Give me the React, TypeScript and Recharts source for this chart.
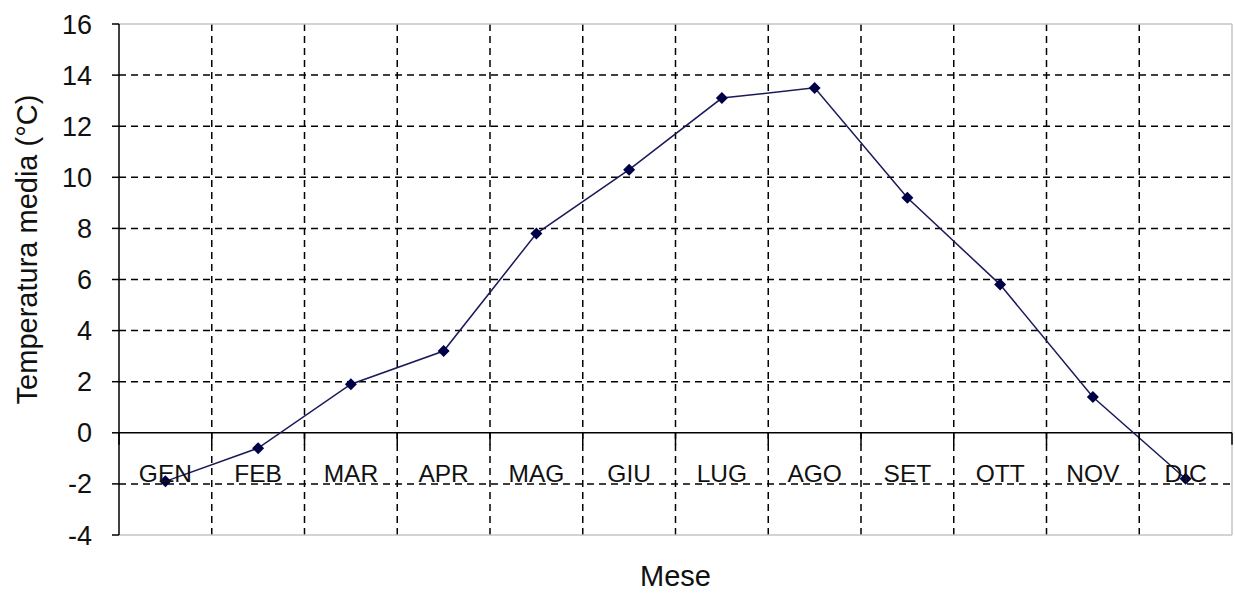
import React from "react";
import { LineChart, Line, XAxis, YAxis, CartesianGrid, ReferenceLine } from "recharts";

const MESI = ["GEN", "FEB", "MAR", "APR", "MAG", "GIU", "LUG", "AGO", "SET", "OTT", "NOV", "DIC"];
const TEMPERATURE = [-1.9, -0.6, 1.9, 3.2, 7.8, 10.3, 13.1, 13.5, 9.2, 5.8, 1.4, -1.8];
const Y_TICKS = [-4, -2, 0, 2, 4, 6, 8, 10, 12, 14, 16];
const GRID_VALUES = [-2, 2, 4, 6, 8, 10, 12, 14];

const data = MESI.map((mese, i) => ({ mese, temp: TEMPERATURE[i] }));

const W = 1235;
const H = 599;
const MARGIN = { top: 24, right: 3, left: 0, bottom: 0 };
const Y_AXIS_W = 119;
const X_AXIS_H = 64;
const PLOT_W = W - Y_AXIS_W - MARGIN.left - MARGIN.right;
const PLOT_H = H - MARGIN.top - MARGIN.bottom - X_AXIS_H;
const BAND = PLOT_W / MESI.length;
const Y_MIN = -4;
const Y_MAX = 16;
const ZERO_Y = MARGIN.top + (PLOT_H * (Y_MAX - 0)) / (Y_MAX - Y_MIN);
const FONT = "'Liberation Sans', Arial, sans-serif";

const MonthTick = (props: any) => {
  const { x, payload, index } = props;
  return (
    <g>
      <line x1={x - BAND / 2} x2={x - BAND / 2} y1={ZERO_Y} y2={ZERO_Y + 12} stroke="#000" strokeWidth={1.5} />
      {index === MESI.length - 1 && (
        <line x1={x + BAND / 2} x2={x + BAND / 2} y1={ZERO_Y} y2={ZERO_Y + 12} stroke="#000" strokeWidth={1.5} />
      )}
      <text x={x} y={ZERO_Y + 49} textAnchor="middle" fontSize={24.5} fill="#111" fontFamily={FONT}>
        {payload.value}
      </text>
    </g>
  );
};

const Diamond = (props: any) => {
  const { cx, cy } = props;
  if (cx == null || cy == null) return null;
  const r = 6;
  return (
    <polygon
      points={`${cx},${cy - r} ${cx + r},${cy} ${cx},${cy + r} ${cx - r},${cy}`}
      fill="#000046"
    />
  );
};

const YTitle = (props: any) => {
  const { viewBox } = props;
  const cy = viewBox.y + viewBox.height / 2 - 30;
  return (
    <text
      x={27}
      y={cy}
      transform={`rotate(-90, 27, ${cy})`}
      textAnchor="middle"
      dominantBaseline="central"
      fontSize={29}
      fill="#111"
      fontFamily={FONT}
    >
      Temperatura media (°C)
    </text>
  );
};

const XTitle = (props: any) => {
  const { viewBox } = props;
  return (
    <text
      x={viewBox.x + viewBox.width / 2}
      y={viewBox.y + 41}
      textAnchor="middle"
      dominantBaseline="central"
      fontSize={29}
      fill="#111"
      fontFamily={FONT}
    >
      Mese
    </text>
  );
};

export default function App() {
  return (
    <div style={{ position: "absolute", left: 0, top: 0, width: W, height: H, background: "#fff" }}>
      <LineChart width={W} height={H} data={data} margin={MARGIN}>
        <CartesianGrid
          stroke="#000"
          strokeWidth={1.5}
          strokeDasharray="7 5"
          horizontalValues={GRID_VALUES}
          verticalCoordinatesGenerator={({ offset }: any) =>
            MESI.slice(1).map((_, i) => offset.left + (offset.width * (i + 1)) / MESI.length)
          }
        />
        <CartesianGrid
          stroke="#c4c4c4"
          strokeWidth={1.5}
          horizontalCoordinatesGenerator={({ offset }: any) => [offset.top, offset.top + offset.height]}
          verticalCoordinatesGenerator={({ offset }: any) => [offset.left + offset.width]}
        />
        <XAxis
          dataKey="mese"
          height={X_AXIS_H}
          padding={{ left: BAND / 2, right: BAND / 2 }}
          axisLine={false}
          tickLine={false}
          interval={0}
          tick={<MonthTick />}
          label={XTitle}
        />
        <YAxis
          width={Y_AXIS_W}
          domain={[Y_MIN, Y_MAX]}
          ticks={Y_TICKS}
          interval={0}
          axisLine={{ stroke: "#000", strokeWidth: 1.5 }}
          tickLine={{ stroke: "#000", strokeWidth: 1.5 }}
          tickSize={7}
          tickMargin={20}
          tick={{ fontSize: 27, fill: "#111", fontFamily: FONT }}
          label={YTitle}
        />
        <ReferenceLine y={0} stroke="#000" strokeWidth={1.5} />
        <Line
          type="linear"
          dataKey="temp"
          stroke="#1a1a5a"
          strokeWidth={1.5}
          dot={<Diamond />}
          activeDot={false}
          isAnimationActive={false}
        />
      </LineChart>
    </div>
  );
}
